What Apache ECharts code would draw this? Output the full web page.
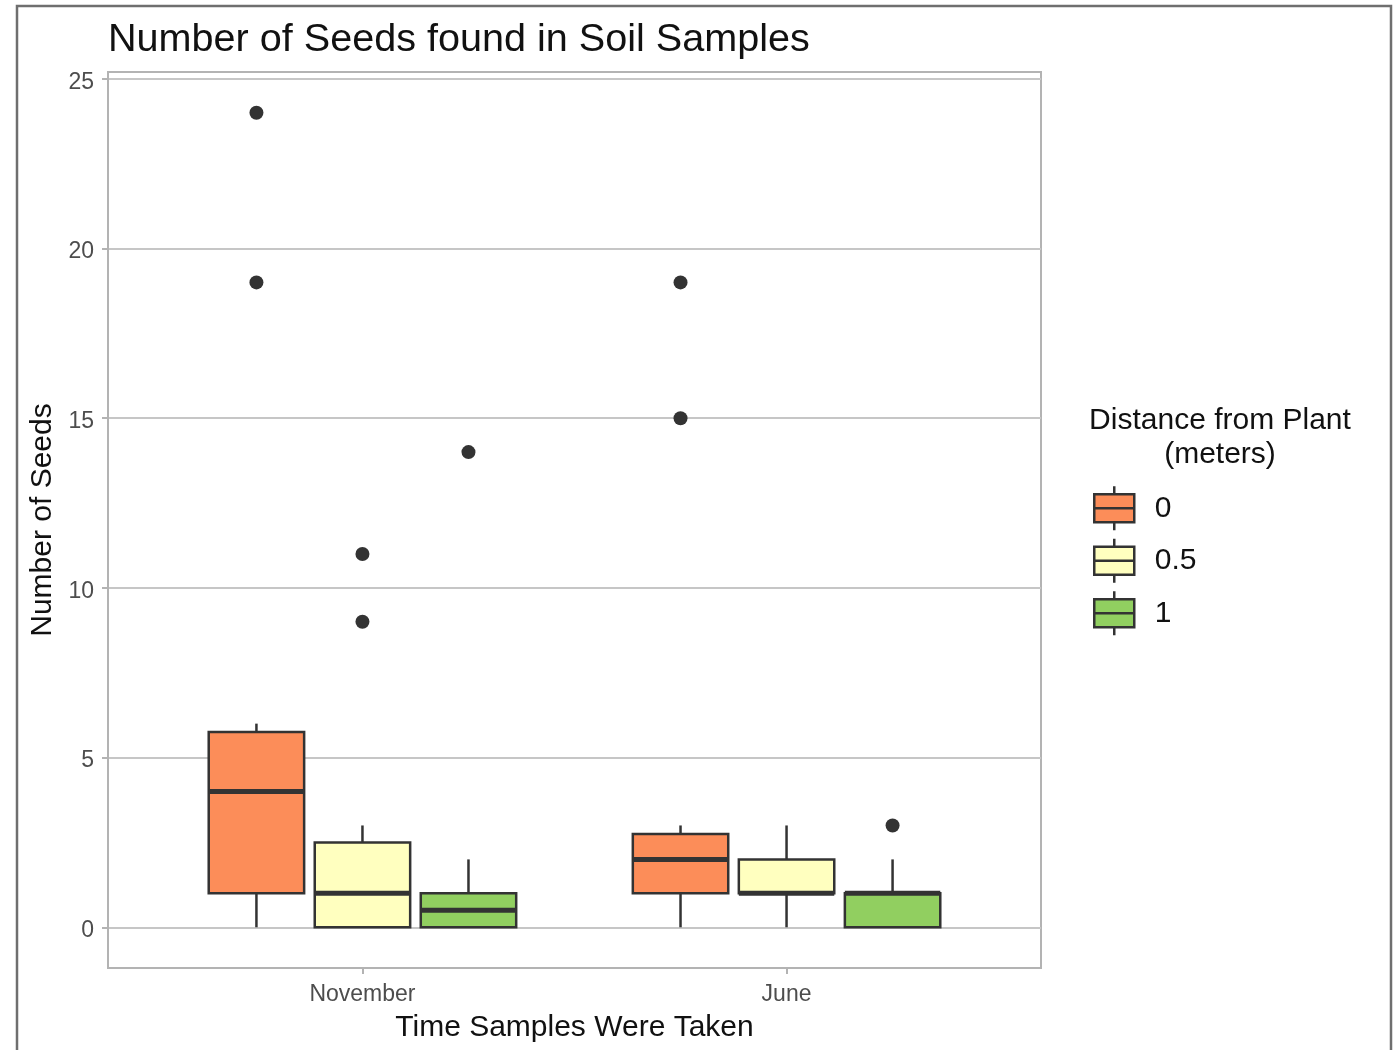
<!DOCTYPE html>
<html>
<head>
<meta charset="utf-8">
<title>Number of Seeds found in Soil Samples</title>
<script src="https://cdn.jsdelivr.net/npm/echarts@6/dist/echarts.min.js"></script>
<style>
  html, body { margin: 0; padding: 0; background: #ffffff; }
  #chart { width: 1400px; height: 1050px; }
</style>
</head>
<body>
<div id="chart"></div>
<script>
// Sampling times on the x axis
const months = ['November', 'June'];
// Distance groups (legend entries)
const distances = ['0', '0.5', '1'];
const fills = ['#FC8D59', '#FFFFBF', '#91CF60'];

// Box statistics per month: [lower whisker, Q1, median, Q3, upper whisker]
const stats0  = [[0, 1, 4, 5.75, 6], [0, 1, 2, 2.75, 3]];
const stats05 = [[0, 0, 1, 2.5, 3],  [0, 1, 1, 2, 3]];
const stats1  = [[0, 0, 0.5, 1, 2],  [0, 0, 1, 1, 2]];

// Outlying counts per month
const outliers0  = [[19, 24], [15, 19]];
const outliers05 = [[9, 11], []];
const outliers1  = [[14], [3]];

// Y axis tick labels
const yTicks = [0, 5, 10, 15, 20, 25];

const allStats = [stats0, stats05, stats1];
const allOutliers = [outliers0, outliers05, outliers1];

// dodge spacing and box width in x-axis units
const DODGE = 0.25;
const BOX_W = 0.225;
const INK = '#333333';

function boxRenderer(offset) {
  return function (params, api) {
    const x = api.value(0) + offset;
    const lo = api.coord([x, api.value(1)]);
    const q1 = api.coord([x, api.value(2)]);
    const md = api.coord([x, api.value(3)]);
    const q3 = api.coord([x, api.value(4)]);
    const hi = api.coord([x, api.value(5)]);
    const w = api.size([BOX_W, 0])[0];
    const cx = lo[0];
    const lineStyle = { stroke: INK, lineWidth: 2.5 };
    return {
      type: 'group',
      children: [
        { type: 'line', shape: { x1: cx, y1: lo[1], x2: cx, y2: q1[1] }, style: lineStyle },
        { type: 'line', shape: { x1: cx, y1: q3[1], x2: cx, y2: hi[1] }, style: lineStyle },
        { type: 'rect', shape: { x: cx - w / 2, y: q3[1], width: w, height: q1[1] - q3[1] },
          style: { fill: api.visual('color'), stroke: INK, lineWidth: 2.5 } },
        { type: 'line', shape: { x1: cx - w / 2, y1: md[1], x2: cx + w / 2, y2: md[1] },
          style: { stroke: INK, lineWidth: 5 } }
      ]
    };
  };
}

const series = [];
distances.forEach(function (d, i) {
  const offset = (i - 1) * DODGE;
  series.push({
    name: d,
    type: 'custom',
    itemStyle: { color: fills[i] },
    renderItem: boxRenderer(offset),
    encode: { x: 0, y: [1, 2, 3, 4, 5] },
    data: allStats[i].map(function (s, m) { return [m + 1].concat(s); }),
    z: 2
  });
  const pts = [];
  allOutliers[i].forEach(function (vals, m) {
    vals.forEach(function (v) { pts.push([m + 1 + offset, v]); });
  });
  series.push({
    name: d + ' outliers',
    type: 'scatter',
    symbol: 'circle',
    symbolSize: 14,
    itemStyle: { color: INK, opacity: 1 },
    data: pts,
    z: 3
  });
});

// legend key: box with median bar and whisker stubs
const keyIcon = 'path://M21,0L21,8M1,8L41,8L41,36L1,36ZM1,22L41,22M21,36L21,44';

const chart = echarts.init(document.getElementById('chart'), null, { renderer: 'canvas' });
chart.setOption({
  backgroundColor: '#ffffff',
  animation: false,
  textStyle: { fontFamily: 'Liberation Sans, Arial, sans-serif' },
  title: [
    {
      text: 'Number of Seeds found in Soil Samples',
      left: 103, top: 15,
      textStyle: { fontSize: 39.6, fontWeight: 'normal', color: '#111111',
                   fontFamily: 'Liberation Sans, Arial, sans-serif' }
    },
    {
      text: 'Distance from Plant\n(meters)',
      left: 1215, top: 399, textAlign: 'center',
      textStyle: { fontSize: 30, fontWeight: 'normal', color: '#111111', lineHeight: 34,
                   fontFamily: 'Liberation Sans, Arial, sans-serif', align: 'center' }
    }
  ],
  legend: {
    orient: 'vertical',
    left: 1088, top: 480,
    itemWidth: 41, itemHeight: 44, itemGap: 6,
    icon: keyIcon,
    textStyle: { fontSize: 30, color: '#111111', padding: [0, 0, 0, 15],
                 fontFamily: 'Liberation Sans, Arial, sans-serif' },
    data: distances.map(function (d, i) {
      return { name: d, itemStyle: { color: fills[i], borderColor: INK, borderWidth: 2.5 } };
    }),
    selectedMode: false
  },
  grid: {
    left: 108, right: 359, top: 72, bottom: 82,
    show: true, borderColor: '#b3b3b3', borderWidth: 2, backgroundColor: '#ffffff'
  },
  xAxis: {
    type: 'value',
    min: 0.4, max: 2.6,
    name: 'Time Samples Were Taken',
    nameLocation: 'middle',
    nameGap: 45,
    nameTextStyle: { fontSize: 30, color: '#111111' },
    axisLine: { show: true, onZero: false, lineStyle: { color: '#b3b3b3', width: 2 } },
    axisTick: { show: true, customValues: [1, 2], length: 6, lineStyle: { color: '#b3b3b3', width: 2 } },
    axisLabel: {
      customValues: [1, 2], margin: 15, fontSize: 23, color: '#4d4d4d',
      formatter: function (v) { return months[Math.round(v) - 1]; }
    },
    splitLine: { show: false }
  },
  yAxis: {
    type: 'value',
    min: -1.2, max: 25.2,
    name: 'Number of Seeds',
    nameLocation: 'middle',
    nameGap: 50,
    nameTextStyle: { fontSize: 30, color: '#111111' },
    axisLine: { show: true, onZero: false, lineStyle: { color: '#b3b3b3', width: 2 } },
    axisTick: { show: true, customValues: yTicks, length: 6, lineStyle: { color: '#b3b3b3', width: 2 } },
    axisLabel: {
      customValues: yTicks, margin: 14,
      formatter: function (v) { return '{t|' + v + '}'; },
      rich: { t: { fontSize: 23, color: '#4d4d4d', padding: [7, 0, 0, 0] } }
    },
    splitLine: { show: true, lineStyle: { color: '#c6c6c6', width: 2 } }
  },
  graphic: [
    {
      type: 'polyline',
      shape: { points: [[17, 1050], [17, 6], [1391, 6], [1391, 1050]] },
      style: { stroke: '#6f6f6f', lineWidth: 2.5, fill: null },
      silent: true
    }
  ],
  series: series
});
</script>
</body>
</html>
